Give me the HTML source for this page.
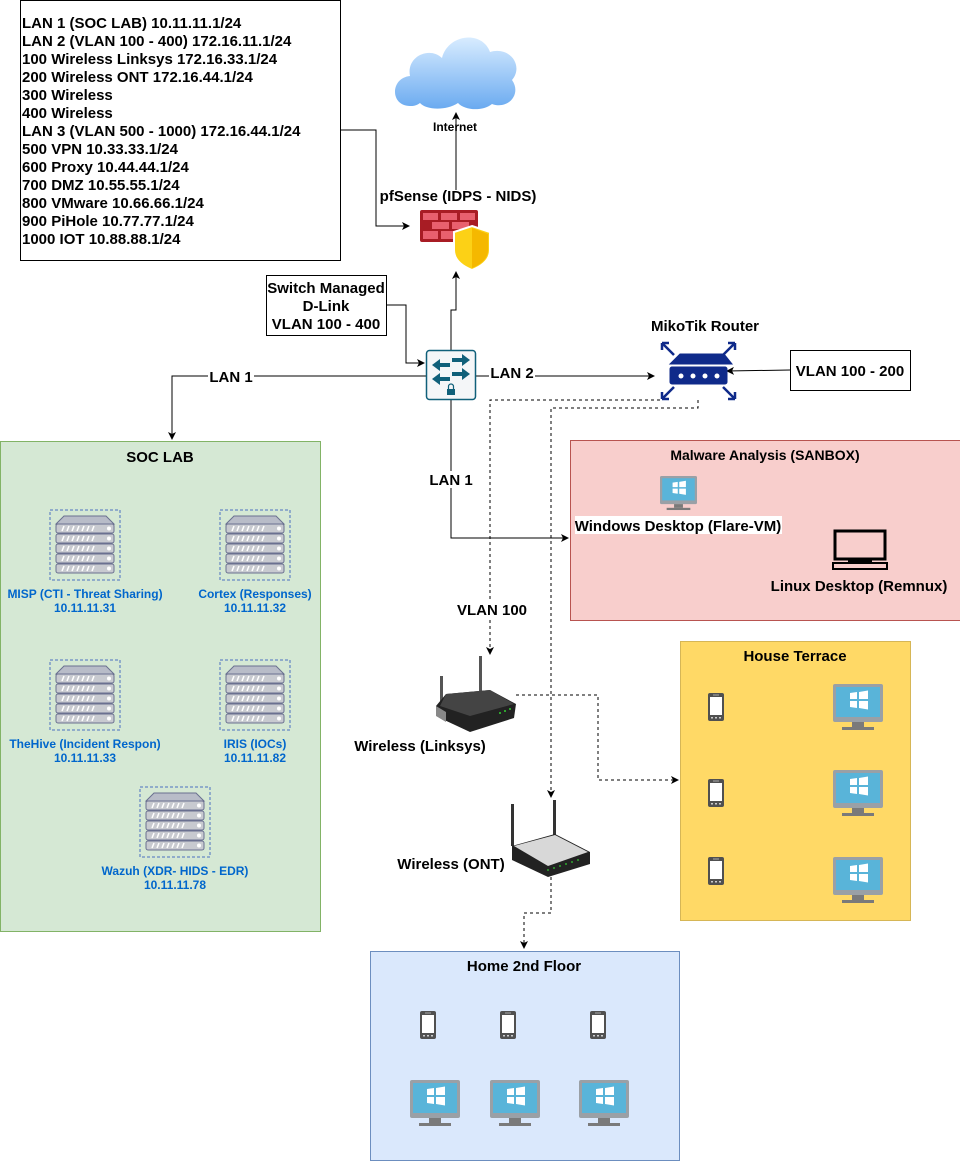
<!DOCTYPE html>
<html><head><meta charset="utf-8"><style>
html,body{margin:0;padding:0;background:#fff;}
svg{display:block;font-family:"Liberation Sans",sans-serif;font-weight:bold;}
</style></head><body>
<svg width="960" height="1161" viewBox="0 0 960 1161" xmlns="http://www.w3.org/2000/svg">
<defs>
<marker id="ar" markerWidth="8" markerHeight="8" refX="7" refY="4" orient="auto" markerUnits="userSpaceOnUse"><path d="M0,0 L8,4 L0,8 L2,4 z" fill="#000"/></marker>
<g id="srv">
 <rect x="0" y="0" width="70" height="70" fill="none" stroke="#4a6fc0" stroke-dasharray="3,2"/>
 <path d="M6,14 L14,6 L56,6 L64,14 z" fill="#b8bcc8" stroke="#6a7090"/>
 <g fill="#c8cad0" stroke="#6a7090">
 <rect x="6" y="14" width="58" height="9" rx="2"/><rect x="6" y="24" width="58" height="9" rx="2"/><rect x="6" y="34" width="58" height="9" rx="2"/><rect x="6" y="44" width="58" height="9" rx="2"/><rect x="6" y="54" width="58" height="9" rx="2"/>
 </g>
 <g fill="#fff"><circle cx="59" cy="18.5" r="2"/><circle cx="59" cy="28.5" r="2"/><circle cx="59" cy="38.5" r="2"/><circle cx="59" cy="48.5" r="2"/><circle cx="59" cy="58.5" r="2"/></g>
 <g stroke="#fff" stroke-width="1.5"><path d="M12,21 l2,-5 M17,21 l2,-5 M22,21 l2,-5 M27,21 l2,-5 M32,21 l2,-5 M37,21 l2,-5 M42,21 l2,-5"/><path d="M12,31 l2,-5 M17,31 l2,-5 M22,31 l2,-5 M27,31 l2,-5 M32,31 l2,-5 M37,31 l2,-5 M42,31 l2,-5"/><path d="M12,41 l2,-5 M17,41 l2,-5 M22,41 l2,-5 M27,41 l2,-5 M32,41 l2,-5 M37,41 l2,-5 M42,41 l2,-5"/><path d="M12,51 l2,-5 M17,51 l2,-5 M22,51 l2,-5 M27,51 l2,-5 M32,51 l2,-5 M37,51 l2,-5 M42,51 l2,-5"/><path d="M12,61 l2,-5 M17,61 l2,-5 M22,61 l2,-5 M27,61 l2,-5 M32,61 l2,-5 M37,61 l2,-5 M42,61 l2,-5"/></g>
</g>
<g id="mon">
 <rect x="0" y="0" width="50" height="38" rx="2" fill="#9aa0a6"/>
 <rect x="3" y="3" width="44" height="30" fill="#59b4d9"/>
 <path d="M17,9 l7,-1 v7 h-7z M26,8 l9,-1.5 v8.5 h-9z M17,17 h7 v7 l-7,-1z M26,17 h9 v8.5 l-9,-1.5z" fill="#fff"/>
 <rect x="19" y="38" width="12" height="5" fill="#7a7a7a"/>
 <rect x="9" y="43" width="32" height="3" fill="#7a7a7a"/>
</g>
<g id="ph">
 <rect x="0" y="0" width="16" height="28" rx="2" fill="#505050"/>
 <rect x="2" y="4" width="12" height="18" fill="#fff"/>
 <rect x="5" y="1.5" width="6" height="1" fill="#aaa"/>
 <g fill="#ccc"><rect x="3" y="24" width="2" height="1.5"/><rect x="7" y="24" width="2" height="1.5"/><rect x="11" y="24" width="2" height="1.5"/></g>
</g>
</defs>

<rect x="0.5" y="441.5" width="320" height="490" fill="#d5e8d4" stroke="#82b366"/>
<text x="160" y="462" font-size="15" text-anchor="middle">SOC LAB</text>
<rect x="570.5" y="440.5" width="390" height="180" fill="#f8cecc" stroke="#b85450"/>
<text x="765" y="460" font-size="14" text-anchor="middle">Malware Analysis (SANBOX)</text>
<rect x="680.5" y="641.5" width="230" height="279" fill="#ffd966" stroke="#d6b656"/>
<text x="795" y="661" font-size="15" text-anchor="middle">House Terrace</text>
<rect x="370.5" y="951.5" width="309" height="209" fill="#dae8fc" stroke="#6c8ebf"/>
<text x="524" y="971" font-size="15" text-anchor="middle">Home 2nd Floor</text>

<rect x="20.5" y="0.5" width="320" height="260" fill="#fff" stroke="#000"/>
<g font-size="15">
<text x="22" y="28">LAN 1 (SOC LAB) 10.11.11.1/24</text>
<text x="22" y="46">LAN 2 (VLAN 100 - 400) 172.16.11.1/24</text>
<text x="22" y="64">100 Wireless Linksys 172.16.33.1/24</text>
<text x="22" y="82">200 Wireless ONT 172.16.44.1/24</text>
<text x="22" y="100">300 Wireless</text>
<text x="22" y="118">400 Wireless</text>
<text x="22" y="136">LAN 3 (VLAN 500 - 1000) 172.16.44.1/24</text>
<text x="22" y="154">500 VPN 10.33.33.1/24</text>
<text x="22" y="172">600 Proxy 10.44.44.1/24</text>
<text x="22" y="190">700 DMZ 10.55.55.1/24</text>
<text x="22" y="208">800 VMware 10.66.66.1/24</text>
<text x="22" y="226">900 PiHole 10.77.77.1/24</text>
<text x="22" y="244">1000 IOT 10.88.88.1/24</text>
</g>

<defs><linearGradient id="cg" x1="0" y1="0" x2="0" y2="1"><stop offset="0" stop-color="#d8ecff"/><stop offset="1" stop-color="#6aaaf0"/></linearGradient></defs>
<g fill="url(#cg)">
<path d="M410,106 C390,106 390,78 410,76 C406,56 430,46 442,58 C448,34 482,30 490,52 C510,46 524,66 512,80 C522,94 508,110 492,104 C482,112 464,110 458,103 C446,111 426,110 420,103 C416,106 413,106 410,106 z"/>
</g>
<text x="455" y="131" font-size="12" text-anchor="middle">Internet</text>

<g fill="none" stroke="#000" stroke-width="1">
<path d="M456,190 V113" marker-end="url(#ar)"/>
<path d="M341,130 H376 V226 H409" marker-end="url(#ar)"/>
<path d="M386,305 H406 V363 H424" marker-end="url(#ar)"/>
<path d="M451,350 V310 H456 V272" marker-end="url(#ar)"/>
<path d="M426,376 H172 V439" marker-end="url(#ar)"/>
<path d="M476,376 H654" marker-end="url(#ar)"/>
<path d="M790,370 L727,371" marker-end="url(#ar)"/>
<path d="M451,400 V538 H568" marker-end="url(#ar)"/>
</g>
<g fill="none" stroke="#000" stroke-width="1" stroke-dasharray="3,3">
<path d="M660,400 H490 V654" marker-end="url(#ar)"/>
<path d="M698,400 V408 H551 V797" marker-end="url(#ar)"/>
<path d="M516,695 H598 V780 H678" marker-end="url(#ar)"/>
<path d="M551,877 V913 H524 V948" marker-end="url(#ar)"/>
</g>

<g font-size="15">
<text x="458" y="201" text-anchor="middle">pfSense (IDPS - NIDS)</text>
<rect x="266.5" y="275.5" width="120" height="60" fill="#fff" stroke="#000"/>
<text x="326" y="293" text-anchor="middle">Switch Managed</text>
<text x="326" y="311" text-anchor="middle">D-Link</text>
<text x="326" y="329" text-anchor="middle">VLAN 100 -  400</text>
<rect x="208" y="368" width="46" height="16" fill="#fff"/>
<text x="231" y="382" text-anchor="middle">LAN 1</text>
<rect x="489" y="364" width="46" height="16" fill="#fff"/>
<text x="512" y="378" text-anchor="middle">LAN 2</text>
<text x="705" y="331" text-anchor="middle">MikoTik Router</text>
<rect x="790.5" y="350.5" width="120" height="40" fill="#fff" stroke="#000"/>
<text x="850" y="376" text-anchor="middle">VLAN 100 - 200</text>
<rect x="428" y="471" width="46" height="17" fill="#fff"/>
<text x="451" y="485" text-anchor="middle">LAN 1</text>
<rect x="575" y="516" width="207" height="18" fill="#fff"/>
<text x="678" y="531" text-anchor="middle">Windows Desktop (Flare-VM)</text>
<text x="859" y="591" text-anchor="middle">Linux Desktop (Remnux)</text>
<rect x="456" y="601" width="72" height="17" fill="#fff"/>
<text x="492" y="615" text-anchor="middle">VLAN 100</text>
<text x="420" y="751" text-anchor="middle">Wireless (Linksys)</text>
<text x="451" y="869" text-anchor="middle">Wireless (ONT)</text>
</g>

<rect x="420" y="210" width="58" height="32" rx="2" fill="#a81c24"/>
<g fill="#e8606e"><rect x="423" y="213" width="15" height="7"/><rect x="441" y="213" width="16" height="7"/><rect x="460" y="213" width="15" height="7"/><rect x="432" y="222" width="17" height="7"/><rect x="452" y="222" width="17" height="7"/><rect x="423" y="231" width="15" height="8"/><rect x="441" y="231" width="16" height="8"/></g>
<path d="M472,226 L490,232 V250 C490,260 482,266 472,270 C462,266 454,260 454,250 V232 z" fill="#fcd116" stroke="#fff" stroke-width="2"/>
<path d="M472,228 V268 C482,264 488,258 488,250 V234z" fill="#f5b800"/>

<rect x="426.5" y="350.5" width="49" height="49" rx="3" fill="#f4f6f8" stroke="#10607a" stroke-width="1.5"/>
<g fill="#10607a">
<path d="M452,358 h10 v-4 l8,6 l-8,6 v-4 h-10z"/><path d="M452,372 h10 v-4 l8,6 l-8,6 v-4 h-10z"/>
<path d="M450,363 h-10 v-4 l-8,6 l8,6 v-4 h10z"/><path d="M450,377 h-10 v-4 l-8,6 l8,6 v-4 h10z"/>
<rect x="447" y="389" width="8" height="6"/>
</g>
<path d="M448.5,389 v-2.5 a2.5,2.5 0 0 1 5,0 v2.5" fill="none" stroke="#10607a" stroke-width="1.2"/>

<g fill="#0f2a8a" stroke="#0f2a8a">
<path d="M680,354 H724 L732,364 H670z"/>
<rect x="670" y="367" width="57" height="17" rx="2"/>
<g stroke-width="2.5" fill="none"><path d="M662,343 L674,355 M662,343 h7 M662,343 v7"/><path d="M735,343 L723,355 M735,343 h-7 M735,343 v7"/><path d="M662,399 L674,387 M662,399 h7 M662,399 v-7"/><path d="M735,399 L723,387 M735,399 h-7 M735,399 v-7"/></g>
</g>
<g fill="#fff"><circle cx="681" cy="376" r="2.5"/><circle cx="693" cy="376" r="2.5"/><circle cx="705" cy="376" r="2.5"/><circle cx="717" cy="376" r="2.5"/></g>

<use href="#srv" x="50" y="510"/>
<use href="#srv" x="220" y="510"/>
<use href="#srv" x="50" y="660"/>
<use href="#srv" x="220" y="660"/>
<use href="#srv" x="140" y="787"/>
<g font-size="12" fill="#0066cc" text-anchor="middle">
<text x="85" y="598">MISP (CTI - Threat Sharing)</text><text x="85" y="612">10.11.11.31</text>
<text x="255" y="598">Cortex (Responses)</text><text x="255" y="612">10.11.11.32</text>
<text x="85" y="748">TheHive (Incident Respon)</text><text x="85" y="762">10.11.11.33</text>
<text x="255" y="748">IRIS (IOCs)</text><text x="255" y="762">10.11.11.82</text>
<text x="175" y="875">Wazuh (XDR- HIDS - EDR)</text><text x="175" y="889">10.11.11.78</text>
</g>

<g transform="translate(660,476) scale(0.74)"><use href="#mon"/></g>
<rect x="835" y="531" width="50" height="28" fill="none" stroke="#000" stroke-width="3"/>
<rect x="848" y="558" width="24" height="4" fill="#000"/>
<path d="M833,563 H887 V569 H833z" fill="none" stroke="#000" stroke-width="2"/>

<g>
<rect x="440" y="676" width="3" height="28" fill="#555"/>
<rect x="479" y="656" width="3" height="40" fill="#555"/>
<path d="M446,694 L490,690 L516,704 L514,718 L470,732 L440,718 L436,706 z" fill="#222"/>
<path d="M446,694 L490,690 L514,704 L470,716 L440,706 z" fill="#444"/>
<path d="M436,706 L446,712 L446,722 L436,716z" fill="#888"/>
<g fill="#3c3"><circle cx="500" cy="713" r="1"/><circle cx="505" cy="711" r="1"/><circle cx="510" cy="709" r="1"/></g>
</g>
<g>
<rect x="511" y="804" width="3" height="42" fill="#333"/>
<rect x="553" y="800" width="3" height="38" fill="#333"/>
<path d="M512,846 L555,834 L590,852 L590,864 L548,877 L512,860 z" fill="#222"/>
<path d="M514,846 L555,835 L588,852 L548,866 z" fill="#d8d8d8"/>
<g fill="#3c3"><circle cx="548" cy="870" r="0.9"/><circle cx="554" cy="868" r="0.9"/><circle cx="560" cy="866" r="0.9"/><circle cx="566" cy="864" r="0.9"/><circle cx="572" cy="862" r="0.9"/><circle cx="578" cy="860" r="0.9"/></g>
</g>

<use href="#ph" x="708" y="693"/><use href="#ph" x="708" y="779"/><use href="#ph" x="708" y="857"/>
<use href="#mon" x="833" y="684"/><use href="#mon" x="833" y="770"/><use href="#mon" x="833" y="857"/>
<use href="#ph" x="420" y="1011"/><use href="#ph" x="500" y="1011"/><use href="#ph" x="590" y="1011"/>
<use href="#mon" x="410" y="1080"/><use href="#mon" x="490" y="1080"/><use href="#mon" x="579" y="1080"/>
</svg>
</body></html>
